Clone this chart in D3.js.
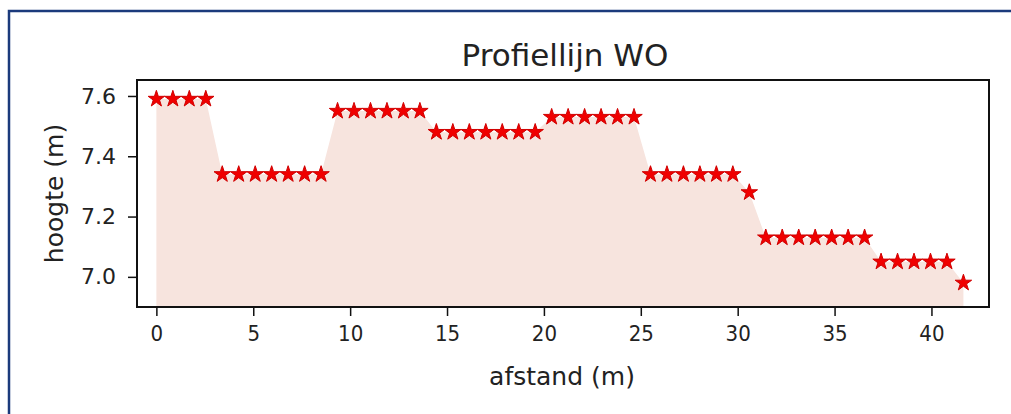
<!DOCTYPE html>
<html>
<head>
<meta charset="utf-8">
<script src="https://cdn.jsdelivr.net/npm/d3@7/dist/d3.min.js"></script>
<style>
  html, body { margin: 0; padding: 0; background: #fff; }
  svg { display: block; }
  text { font-family: "DejaVu Sans", sans-serif; fill: #222; }
</style>
</head>
<body>
<svg id="chart" width="1011" height="414"></svg>
<script>
// ---- data ----
const afstand = [
  0, 0.85, 1.7, 2.55,
  3.4, 4.25, 5.1, 5.95, 6.8, 7.65, 8.5,
  9.35, 10.2, 11.05, 11.9, 12.75, 13.6,
  14.45, 15.3, 16.15, 17.0, 17.85, 18.7, 19.55,
  20.4, 21.25, 22.1, 22.95, 23.8, 24.65,
  25.5, 26.35, 27.2, 28.05, 28.9, 29.75,
  30.6,
  31.45, 32.3, 33.15, 34.0, 34.85, 35.7, 36.55,
  37.4, 38.25, 39.1, 39.95, 40.8,
  41.65
];
const hoogte = [
  7.59, 7.59, 7.59, 7.59,
  7.34, 7.34, 7.34, 7.34, 7.34, 7.34, 7.34,
  7.55, 7.55, 7.55, 7.55, 7.55, 7.55,
  7.48, 7.48, 7.48, 7.48, 7.48, 7.48, 7.48,
  7.53, 7.53, 7.53, 7.53, 7.53, 7.53,
  7.34, 7.34, 7.34, 7.34, 7.34, 7.34,
  7.28,
  7.13, 7.13, 7.13, 7.13, 7.13, 7.13, 7.13,
  7.05, 7.05, 7.05, 7.05, 7.05,
  6.98
];
const xTicks = [0, 5, 10, 15, 20, 25, 30, 35, 40];
const yTicks = [7.0, 7.2, 7.4, 7.6];
const titleText = "Profiellijn WO";
const xLabelText = "afstand (m)";
const yLabelText = "hoogte (m)";

// ---- layout ----
const svg = d3.select("#chart");
const plot = { left: 137, right: 989, top: 80, bottom: 307 };

// frame border
svg.append("path")
  .attr("d", `M9,414 L9,11 L1011,11`)
  .attr("fill", "none")
  .attr("stroke", "#1b3a7c")
  .attr("stroke-width", 2.5);

const x = d3.scaleLinear().domain([-1.0, 42.97]).range([plot.left, plot.right]);
const y = d3.scaleLinear().domain([6.90, 7.653]).range([plot.bottom, plot.top]);

const pts = afstand.map((d, i) => ({ x: d, y: hoogte[i] }));

// filled profile
const area = d3.area()
  .x(d => x(d.x))
  .y0(y(y.domain()[0]))
  .y1(d => y(d.y));
svg.append("path")
  .datum(pts)
  .attr("d", area)
  .attr("fill", "#f7e4de");

// axes
const fontTick = 22;
const xAxis = d3.axisBottom(x).tickValues(xTicks).tickFormat(d3.format("d")).tickSize(9).tickPadding(9);
const yAxis = d3.axisLeft(y).tickValues(yTicks).tickFormat(d3.format(".1f")).tickSize(9).tickPadding(12);

const gx = svg.append("g").attr("transform", `translate(0,${plot.bottom})`).call(xAxis);
const gy = svg.append("g").attr("transform", `translate(${plot.left},0)`).call(yAxis);
[gx, gy].forEach(g => {
  g.select(".domain").remove();
  g.selectAll(".tick line").attr("stroke", "#111").attr("stroke-width", 1.5);
  g.selectAll(".tick text").attr("font-size", fontTick).attr("fill", "#222")
    .style("font-family", "'DejaVu Sans', sans-serif");
});
gx.selectAll(".tick text").attr("textLength", function () {
  return this.getComputedTextLength() * 0.9;
}).attr("lengthAdjust", "spacingAndGlyphs");

// spines
svg.append("rect")
  .attr("x", plot.left).attr("y", plot.top)
  .attr("width", plot.right - plot.left).attr("height", plot.bottom - plot.top)
  .attr("fill", "none").attr("stroke", "#111").attr("stroke-width", 2);

// star markers
const star = d3.symbol().type(d3.symbolStar).size(84);
svg.append("g").selectAll("path")
  .data(pts)
  .join("path")
  .attr("transform", d => `translate(${x(d.x)},${y(d.y)})`)
  .attr("d", star)
  .attr("fill", "#f00000")
  .attr("stroke", "#d00000")
  .attr("stroke-width", 1);

// title and labels
svg.append("text")
  .attr("x", 565).attr("y", 66)
  .attr("text-anchor", "middle").attr("font-size", 31)
  .text(titleText);
svg.append("text")
  .attr("x", 562).attr("y", 385)
  .attr("text-anchor", "middle").attr("font-size", 25)
  .text(xLabelText);
svg.append("text")
  .attr("transform", `translate(63,${(plot.top + plot.bottom) / 2}) rotate(-90)`)
  .attr("text-anchor", "middle").attr("font-size", 25)
  .text(yLabelText);
</script>
</body>
</html>
